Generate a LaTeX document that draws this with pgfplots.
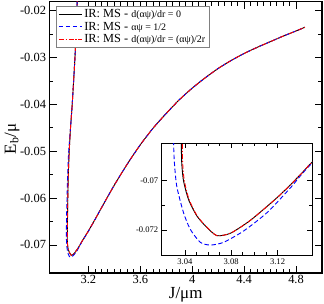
\documentclass[border=0pt]{standalone}
\usepackage{fontspec}
\setmainfont{Liberation Serif}
\usepackage{pgfplots}
\usepackage{pgfplotstable}
\pgfplotsset{compat=1.18}

\pgfplotstableread{
J E
3.118 -0.015
3.112 -0.019
3.106 -0.024
3.098 -0.029
3.088 -0.034
3.075 -0.040
3.062 -0.045
3.052 -0.050
3.045 -0.055
3.041 -0.060
3.038 -0.065
3.0370 -0.0680
3.0372 -0.0692
3.0388 -0.0700
3.0431 -0.07076
3.0504 -0.07143
3.0590 -0.07189
3.0677 -0.07222
3.0795 -0.07212
3.0969 -0.07159
3.1210 -0.07063
3.1398 -0.06976
3.1505 -0.06923
3.20 -0.0670
3.25 -0.0646
3.30 -0.0621
3.40 -0.0572
3.50 -0.0527
3.60 -0.0486
3.70 -0.0450
3.80 -0.0419
3.90 -0.0390
4.00 -0.0365
4.10 -0.0343
4.20 -0.0323
4.30 -0.0306
4.40 -0.0291
4.50 -0.0278
4.60 -0.0266
4.70 -0.0254
4.80 -0.0243
4.868 -0.0235
}\blackdata

\pgfplotstableread{
J E
3.118 -0.015
3.112 -0.019
3.106 -0.024
3.098 -0.029
3.088 -0.034
3.075 -0.040
3.062 -0.045
3.048 -0.050
3.040 -0.055
3.035 -0.060
3.031 -0.065
3.0302 -0.0680
3.0308 -0.06916
3.0330 -0.07023
3.0388 -0.07129
3.0446 -0.07196
3.0533 -0.07249
3.0620 -0.07260
3.0734 -0.07249
3.0908 -0.07203
3.1110 -0.07129
3.1312 -0.07029
3.1485 -0.06936
3.20 -0.0671
3.25 -0.0646
3.30 -0.0621
3.40 -0.0572
3.50 -0.0527
3.60 -0.0486
3.70 -0.0450
3.80 -0.0419
3.90 -0.0390
4.00 -0.0365
4.10 -0.0343
4.20 -0.0323
4.30 -0.0306
4.40 -0.0291
4.50 -0.0278
4.60 -0.0266
4.70 -0.0254
4.80 -0.0243
4.868 -0.0235
}\bluedata

\pgfplotstableread{
J E
3.118 -0.015
3.112 -0.019
3.106 -0.024
3.098 -0.029
3.088 -0.034
3.075 -0.040
3.062 -0.045
3.052 -0.050
3.045 -0.055
3.041 -0.060
3.039 -0.065
3.0380 -0.0680
3.0380 -0.0692
3.0395 -0.0700
3.0436 -0.07076
3.0507 -0.07143
3.0592 -0.07189
3.0677 -0.07222
3.0795 -0.07212
3.0969 -0.07159
3.1210 -0.07063
3.1398 -0.06976
3.1505 -0.06923
3.20 -0.0670
3.25 -0.0646
3.30 -0.0621
3.40 -0.0572
3.50 -0.0527
3.60 -0.0486
3.70 -0.0450
3.80 -0.0419
3.90 -0.0390
4.00 -0.0365
4.10 -0.0343
4.20 -0.0323
4.30 -0.0306
4.40 -0.0291
4.50 -0.0278
4.60 -0.0266
4.70 -0.0254
4.80 -0.0243
4.868 -0.0235
}\reddata

\pgfplotsset{
  /pgf/number format/assume math mode=true,
  blackline/.style={black, line width=0.9bp, smooth, tension=0.4},
  blueline/.style={blue, line width=0.9bp, dash pattern=on 4.5bp off 2.5bp, smooth, tension=0.4},
  redline/.style={red, line width=0.9bp, dash pattern=on 5bp off 1.8bp on 1.2bp off 1.8bp, smooth, tension=0.4},
}

\begin{document}
\begin{tikzpicture}
\useasboundingbox (-49.5bp,-31bp) rectangle (274.5bp,273bp);
\begin{axis}[
  at={(0,0)}, anchor=south west,
  scale only axis, width=272.5bp, height=271.5bp,
  xmin=2.9, xmax=5.0, ymin=-0.076, ymax=-0.018,
  xtick={3.2,3.6,4.0,4.4,4.8},
  ytick={-0.07,-0.06,-0.05,-0.04,-0.03,-0.02},
  minor x tick num=7, minor y tick num=1,
  scaled y ticks=false, scaled x ticks=false,
  yticklabel style={/pgf/number format/fixed, /pgf/number format/precision=3},
  xticklabel style={/pgf/number format/fixed, yshift=1.5bp},
  tick label style={font=\fontsize{12.5}{14}\selectfont},
  major tick length=7bp, minor tick length=4bp,
  tick style={black, line width=0.8bp},
  axis line style={black, line width=1.1bp},
  xlabel={J/μm}, ylabel={E\textsubscript{b}/μ},
  label style={font=\fontsize{17}{19}\selectfont},
  xlabel style={at={(axis description cs:0.4998,-0.0795)}, anchor=center},
  ylabel style={at={(axis description cs:-0.1376,0.4936)}, anchor=center},
  legend style={at={(axis description cs:0.0239,0.9834)}, anchor=north west,
    draw=gray, line width=0.8bp, font=\fontsize{12.4}{13}\selectfont,
    inner xsep=2bp, inner ysep=1.5bp, row sep=0pt,
    nodes={inner xsep=2bp, inner ysep=1.5bp}},
  legend cell align=left,
  legend image code/.code={\draw[#1] (0bp,0bp) -- (23bp,0bp);},
]
\addplot[blackline] table[x=J,y=E] {\blackdata};
\addlegendentry{IR: MS - {\fontsize{10}{11}\selectfont d(αψ)/dr = 0}}
\addplot[blueline] table[x=J,y=E] {\bluedata};
\addlegendentry{IR: MS - {\fontsize{10}{11}\selectfont αψ = 1/2}}
\addplot[redline] table[x=J,y=E] {\reddata};
\addlegendentry{IR: MS - {\fontsize{10}{11}\selectfont d(αψ)/dr = (αψ)/2r}}
\end{axis}
\begin{axis}[
  at={(112.2bp,18bp)}, anchor=south west,
  scale only axis, width=150.6bp, height=111.7bp,
  xmin=3.02, xmax=3.15, ymin=-0.073, ymax=-0.0685,
  xtick={3.04,3.08,3.12},
  ytick={-0.072,-0.07},
  minor x tick num=3, minor y tick num=1,
  scaled y ticks=false, scaled x ticks=false,
  yticklabel style={/pgf/number format/fixed, /pgf/number format/precision=3},
  xticklabel style={/pgf/number format/fixed, /pgf/number format/precision=2},
  tick label style={font=\fontsize{8.6}{10}\selectfont},
  major tick length=5bp, minor tick length=3bp,
  tick style={black, line width=0.7bp},
  axis line style={black, line width=0.9bp},
  axis background/.style={fill=white},
]
\addplot[blackline] table[x=J,y=E] {\blackdata};
\addplot[blueline] table[x=J,y=E] {\bluedata};
\addplot[redline] table[x=J,y=E] {\reddata};
\end{axis}
\end{tikzpicture}
\end{document}
